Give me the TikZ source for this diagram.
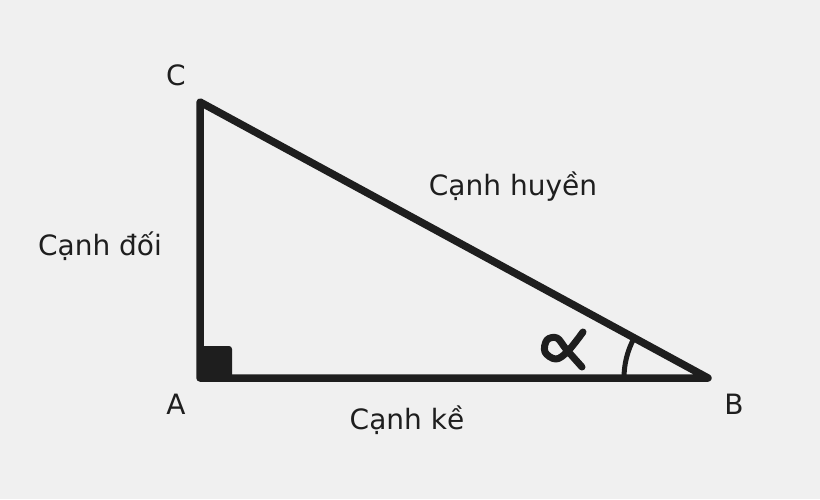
\documentclass[tikz,border=0pt]{standalone}
\usepackage{fontspec}
\setmainfont{DejaVu Sans}
\definecolor{bgc}{HTML}{F0F0F0}
\definecolor{ink}{HTML}{1E1E1E}
\begin{document}
\begin{tikzpicture}[x=1pt,y=-1pt,
  side/.style={draw=ink,line width=7.5pt,line join=round,line cap=round},
  lbl/.style={text=ink,font=\fontsize{28}{34}\selectfont,inner sep=0pt}]
\fill[bgc] (0,0) rectangle (820,499);
\useasboundingbox (0,0) rectangle (820,499);
\coordinate (A) at (200,378);
\coordinate (B) at (708,378);
\coordinate (C) at (200,102);
\fill[ink,rounded corners=3pt] (200,346) rectangle (232,378);
\draw[side] (A) -- (B) -- (C) -- cycle;
\draw[draw=ink,line width=5pt] (B) ++(-84,0) arc[start angle=180,end angle=208.5,radius=84];
\draw[draw=ink,line width=7pt,line cap=round,line join=round] plot[smooth,tension=0.6] coordinates {(583,332) (568,351) (556,359) (545,352) (547,340) (557,338) (566,349) (582,367)};
\node[lbl] (lC) at (176,75) {C};
\node[lbl] (lA) at (176,404) {A};
\node[lbl] (lB) at (734,404) {B};
\node[lbl] (op) at (100,246) {Cạnh đối};
\node[lbl] (hy) at (513,187) {Cạnh huyền};
\node[lbl] (ad) at (407,420) {Cạnh kề};
\end{tikzpicture}
\end{document}
